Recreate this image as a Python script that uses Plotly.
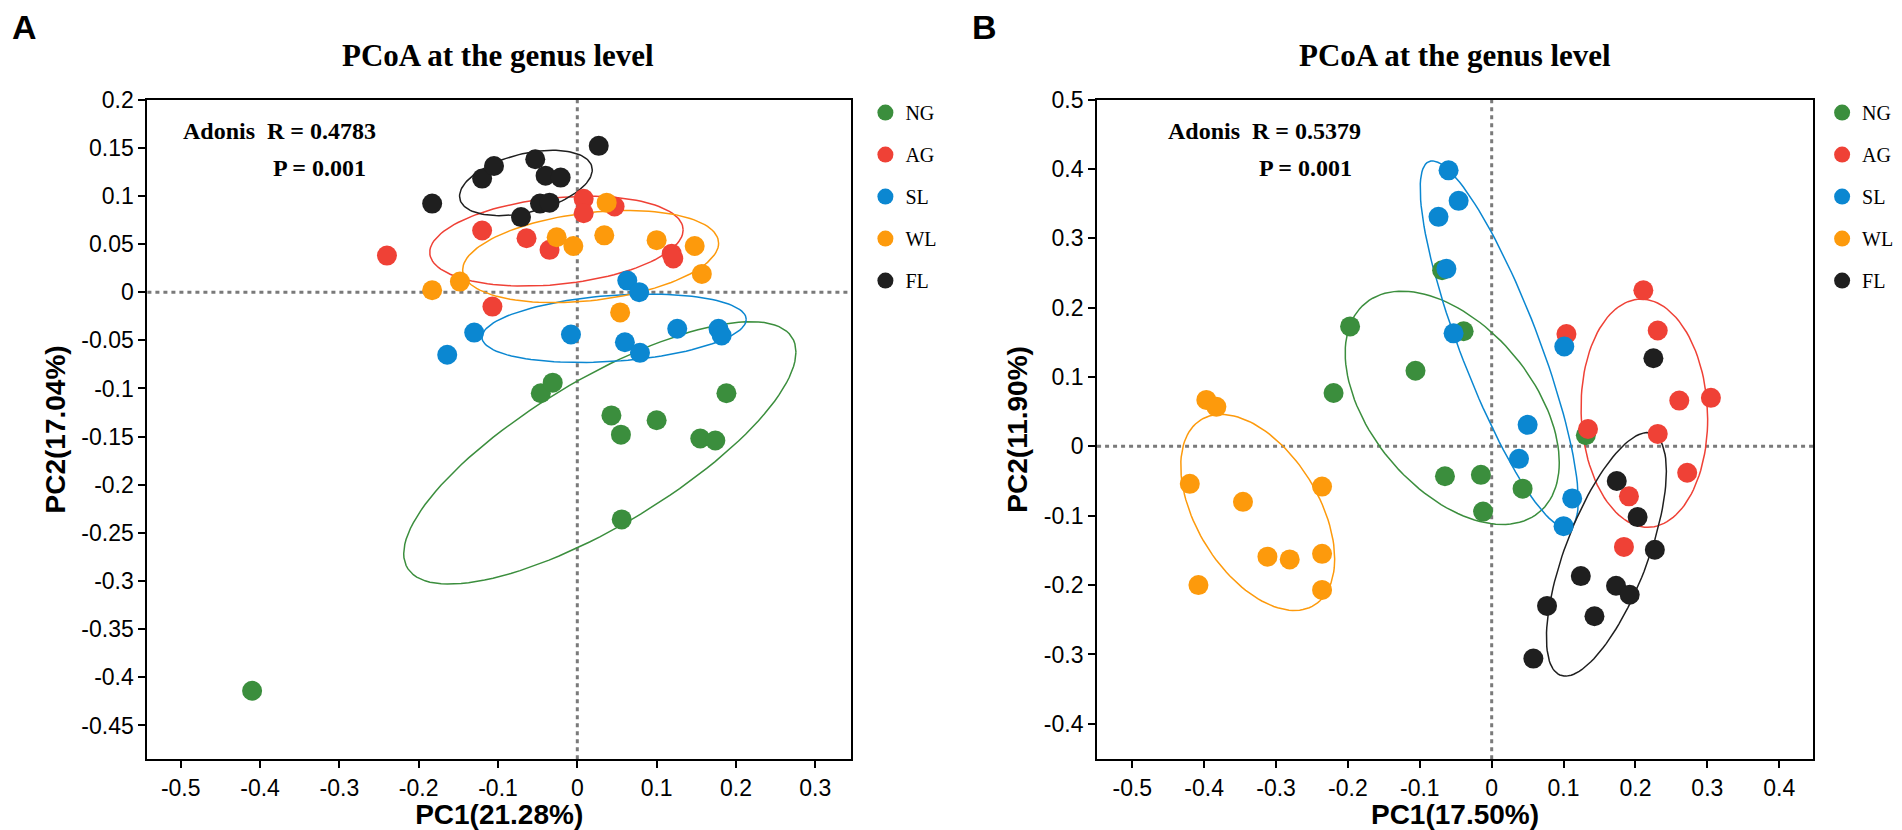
import numpy as np
import plotly.graph_objects as go
from plotly.subplots import make_subplots

groups = ["NG", "AG", "SL", "WL", "FL"]
colors = ["#3b8e3d", "#ef4136", "#0b87d1", "#fd9a0c", "#1f1f1f"]

# panel A: PC1 / PC2 scores, genus level
a_ng_x = [-0.046, -0.031, 0.043, 0.055, 0.100, 0.155, 0.174, 0.188, 0.056, -0.410]
a_ng_y = [-0.105, -0.094, -0.128, -0.148, -0.133, -0.152, -0.154, -0.105, -0.236, -0.414]
a_ag_x = [-0.240, -0.120, -0.064, -0.035, 0.008, 0.008, 0.047, 0.119, 0.121, -0.107]
a_ag_y = [0.038, 0.064, 0.056, 0.044, 0.097, 0.082, 0.089, 0.040, 0.035, -0.015]
a_sl_x = [0.063, 0.078, -0.130, -0.164, -0.008, 0.060, 0.079, 0.126, 0.178, 0.182]
a_sl_y = [0.012, 0.000, -0.042, -0.065, -0.044, -0.052, -0.063, -0.038, -0.038, -0.045]
a_wl_x = [-0.183, -0.148, -0.026, -0.005, 0.037, 0.034, 0.100, 0.148, 0.157, 0.054]
a_wl_y = [0.002, 0.011, 0.057, 0.048, 0.093, 0.059, 0.054, 0.048, 0.019, -0.021]
a_fl_x = [-0.183, -0.120, -0.105, -0.053, -0.040, -0.021, -0.047, -0.035, -0.071, 0.027]
a_fl_y = [0.092, 0.118, 0.131, 0.138, 0.121, 0.119, 0.092, 0.093, 0.078, 0.152]

# panel B
b_ng_x = [-0.069, -0.039, -0.197, -0.106, -0.220, 0.131, -0.065, -0.015, 0.043, -0.012]
b_ng_y = [0.254, 0.166, 0.173, 0.109, 0.077, 0.016, -0.043, -0.041, -0.061, -0.094]
b_ag_x = [0.211, 0.231, 0.104, 0.261, 0.305, 0.231, 0.134, 0.272, 0.191, 0.184]
b_ag_y = [0.225, 0.167, 0.162, 0.066, 0.070, 0.018, 0.025, -0.038, -0.072, -0.145]
b_sl_x = [-0.060, -0.046, -0.074, -0.063, -0.053, 0.101, 0.050, 0.038, 0.112, 0.100]
b_sl_y = [0.398, 0.354, 0.331, 0.256, 0.163, 0.144, 0.031, -0.018, -0.075, -0.115]
b_wl_x = [-0.397, -0.383, -0.420, -0.346, -0.236, -0.312, -0.281, -0.236, -0.408, -0.236]
b_wl_y = [0.067, 0.057, -0.054, -0.080, -0.058, -0.159, -0.163, -0.155, -0.200, -0.207]
b_fl_x = [0.225, 0.174, 0.203, 0.227, 0.124, 0.173, 0.192, 0.077, 0.143, 0.058]
b_fl_y = [0.127, -0.050, -0.102, -0.149, -0.187, -0.201, -0.214, -0.230, -0.245, -0.306]

a_xticks = [-0.5, -0.4, -0.3, -0.2, -0.1, 0, 0.1, 0.2, 0.3]
a_xlabels = ["-0.5", "-0.4", "-0.3", "-0.2", "-0.1", "0", "0.1", "0.2", "0.3"]
a_yticks = [0.2, 0.15, 0.1, 0.05, 0, -0.05, -0.1, -0.15, -0.2, -0.25, -0.3, -0.35, -0.4, -0.45]
a_ylabels = ["0.2", "0.15", "0.1", "0.05", "0", "-0.05", "-0.1", "-0.15", "-0.2",
             "-0.25", "-0.3", "-0.35", "-0.4", "-0.45"]
b_xticks = [-0.5, -0.4, -0.3, -0.2, -0.1, 0, 0.1, 0.2, 0.3, 0.4]
b_xlabels = ["-0.5", "-0.4", "-0.3", "-0.2", "-0.1", "0", "0.1", "0.2", "0.3", "0.4"]
b_yticks = [0.5, 0.4, 0.3, 0.2, 0.1, 0, -0.1, -0.2, -0.3, -0.4]
b_ylabels = ["0.5", "0.4", "0.3", "0.2", "0.1", "0", "-0.1", "-0.2", "-0.3", "-0.4"]

a_stats = ["Adonis&nbsp; R = 0.4783", "P = 0.001"]
b_stats = ["Adonis&nbsp; R = 0.5379", "P = 0.001"]
a_axis_titles = ["PC1(21.28%)", "PC2(17.04%)"]
b_axis_titles = ["PC1(17.50%)", "PC2(11.90%)"]
plot_title = "PCoA at the genus level"

panel_a = [(a_ng_x, a_ng_y), (a_ag_x, a_ag_y), (a_sl_x, a_sl_y), (a_wl_x, a_wl_y), (a_fl_x, a_fl_y)]
panel_b = [(b_ng_x, b_ng_y), (b_ag_x, b_ag_y), (b_sl_x, b_sl_y), (b_wl_x, b_wl_y), (b_fl_x, b_fl_y)]


def ellipse(x, y, level=0.6, segments=120):
    # normal data ellipse, same construction as ggplot2 stat_ellipse(type = "norm")
    pts = np.column_stack([x, y])
    n = len(pts)
    center = pts.mean(axis=0)
    chol = np.linalg.cholesky(np.cov(pts, rowvar=False)).T
    dfd = n - 1
    f = dfd / 2 * ((1 - level) ** (-2 / dfd) - 1)
    radius = np.sqrt(2 * f)
    ang = np.linspace(0, 2 * np.pi, segments + 1)
    circle = np.column_stack([np.cos(ang), np.sin(ang)])
    e = center + radius * circle @ chol
    return e[:, 0], e[:, 1]


fig = make_subplots(rows=1, cols=2)

for col, panel, leg in [(1, panel_a, "legend"), (2, panel_b, "legend2")]:
    for (x, y), color in zip(panel, colors):
        ex, ey = ellipse(x, y)
        fig.add_trace(go.Scatter(x=ex, y=ey, mode="lines", line=dict(color=color, width=1.5),
                                 showlegend=False, hoverinfo="skip"), row=1, col=col)
    for name, (x, y), color in zip(groups, panel, colors):
        fig.add_trace(go.Scatter(x=x, y=y, mode="markers", name=name, legend=leg,
                                 legendgroup=name,
                                 marker=dict(color=color, size=20, line=dict(width=0))),
                      row=1, col=col)

sans = "Liberation Sans Narrow, Liberation Sans, Arial, sans-serif"
sans_bold = "Liberation Sans, Arial, sans-serif"
serif = "Liberation Serif, Times New Roman, serif"

axis_style = dict(showline=True, linecolor="black", linewidth=2, mirror=True,
                  ticks="outside", ticklen=7, tickwidth=1.5, tickcolor="black",
                  showgrid=False, zeroline=False,
                  tickfont=dict(family=sans, size=23, color="black"))
title_font = dict(family=sans, size=28, color="black", weight="bold")

fig.update_xaxes(axis_style)
fig.update_yaxes(axis_style)

fig.update_xaxes(domain=[0.0775, 0.4474], range=[-0.542, 0.345], tickvals=a_xticks, ticktext=a_xlabels,
                 title=dict(text=a_axis_titles[0], font=title_font, standoff=3), row=1, col=1)
fig.update_yaxes(domain=[0.0867, 0.894], range=[-0.485, 0.2], tickvals=a_yticks, ticktext=a_ylabels,
                 title=dict(text=a_axis_titles[1], font=title_font, standoff=8), row=1, col=1)
fig.update_xaxes(domain=[0.5768, 0.9532], range=[-0.549, 0.447], tickvals=b_xticks, ticktext=b_xlabels,
                 title=dict(text=b_axis_titles[0], font=title_font, standoff=3), row=1, col=2)
fig.update_yaxes(domain=[0.0867, 0.894], range=[-0.451, 0.5], tickvals=b_yticks, ticktext=b_ylabels,
                 title=dict(text=b_axis_titles[1], font=title_font, standoff=8), row=1, col=2)

# dotted reference lines through the origin
for xr, yr in [("x", "y"), ("x2", "y2")]:
    dot = dict(color="#7a7a7a", width=3, dash="4px,4px")
    fig.add_shape(type="line", xref=xr, yref=yr + " domain", x0=0, x1=0, y0=0, y1=1, line=dot, layer="below")
    fig.add_shape(type="line", xref=xr + " domain", yref=yr, x0=0, x1=1, y0=0, y1=0, line=dot, layer="below")

notes = [
    ("A", 0.005, 0.983, sans, 34),
    ("B", 0.51, 0.983, sans, 34),
    (plot_title, 0.262, 0.948, serif, 31),
    (plot_title, 0.765, 0.948, serif, 31),
]
for text, x, y, fam, size in notes:
    fig.add_annotation(text=text, x=x, y=y, xref="paper", yref="paper", showarrow=False,
                       xanchor="left" if len(text) == 1 else "center", yanchor="middle",
                       font=dict(family=fam, size=size, color="black", weight="bold"))

for stats, x1, x2 in [(a_stats, 0.0952, 0.1425), (b_stats, 0.613, 0.661)]:
    fig.add_annotation(text=stats[0], x=x1, y=0.855, xref="paper", yref="paper", showarrow=False,
                       xanchor="left", yanchor="middle",
                       font=dict(family=serif, size=24, color="black", weight="bold"))
    fig.add_annotation(text=stats[1], x=x2, y=0.81, xref="paper", yref="paper", showarrow=False,
                       xanchor="left", yanchor="middle",
                       font=dict(family=serif, size=24, color="black", weight="bold"))

legend_style = dict(yanchor="top", y=0.902, xanchor="left", bgcolor="rgba(0,0,0,0)",
                    font=dict(family=serif, size=20, color="black"), tracegroupgap=13,
                    itemsizing="trace")
fig.update_layout(
    width=1902, height=830,
    margin=dict(l=0, r=0, t=0, b=0),
    paper_bgcolor="white", plot_bgcolor="white",
    legend=dict(legend_style, x=0.455),
    legend2=dict(legend_style, x=0.958),
)

fig.write_html("out.html", config={"displayModeBar": False},
               post_script="document.body.style.margin='0';")
